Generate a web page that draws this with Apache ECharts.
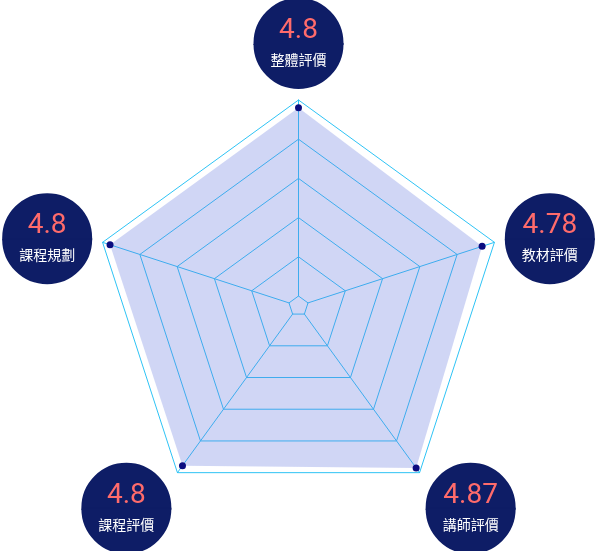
<!DOCTYPE html>
<html><head><meta charset="utf-8">
<script src="https://cdn.jsdelivr.net/npm/echarts@6/dist/echarts.min.js"></script>
<style>html,body{margin:0;padding:0;background:#fff}#c{width:600px;height:551px}</style>
</head><body><div id="c"></div>
<script>
// Indicator names (counter-clockwise starting at the top)
const indicatorNames = ['整體評價', '課程規劃', '課程評價', '講師評價', '教材評價'];
// Score text shown in each badge
const scoreLabels = ['4.8', '4.8', '4.8', '4.87', '4.78'];
// Plotted scores
const scoreValues = [4.8, 4.8, 4.78, 4.85, 4.67];
const axisMin = 0;
const axisMax = 5;
// Indicators whose badge sits lower (bottom of the pentagon)
const lowerBadges = ['課程評價', '講師評價'];

const chart = echarts.init(document.getElementById('c'), null, {renderer: 'canvas'});
const navy = '#0e1d66';
const cyan = '#2ec3f5';
const option = {
  animation: false,
  radar: {
    center: [298.5, 306],
    radius: [10, 206],
    startAngle: 90,
    splitNumber: 5,
    shape: 'polygon',
    nameGap: 12,
    indicator: indicatorNames.map(n => ({name: n, min: axisMin, max: axisMax})),
    axisName: {
      formatter: function (name) {
        const i = indicatorNames.indexOf(name);
        const spacer = lowerBadges.indexOf(name) >= 0 ? '{s| }\n' : '';
        return spacer + '{n|' + scoreLabels[i] + '}\n{t|' + name + '}';
      },
      rich: {
        s: {height: 52, width: 88, lineHeight: 52, align: 'center'},
        n: {
          fontSize: 28, fontFamily: 'Roboto', fontWeight: 400, color: '#ff6b6b',
          width: 88, height: 26, lineHeight: 45, padding: [19, 0, 0, 0], align: 'center',
          backgroundColor: navy, borderColor: navy, borderWidth: 1, borderRadius: [44, 44, 0, 0]
        },
        t: {
          fontSize: 14, fontFamily: 'Noto Sans CJK TC', color: '#ffffff',
          width: 88, height: 14, lineHeight: 44, padding: [9, 0, 21, 0], align: 'center',
          backgroundColor: navy, borderColor: navy, borderWidth: 1, borderRadius: [0, 0, 44, 44]
        }
      }
    },
    axisLine: {show: true, lineStyle: {color: cyan, width: 1}},
    splitLine: {show: true, lineStyle: {color: cyan, width: 1}},
    splitArea: {show: false},
    axisTick: {show: false},
    axisLabel: {show: false}
  },
  series: [{
    type: 'radar',
    symbol: 'circle',
    symbolSize: 7,
    itemStyle: {color: '#0b0d80'},
    lineStyle: {width: 0},
    areaStyle: {color: '#6276de', opacity: 0.3},
    data: [{value: scoreValues}]
  }]
};
chart.setOption(option);
</script>
</body></html>
